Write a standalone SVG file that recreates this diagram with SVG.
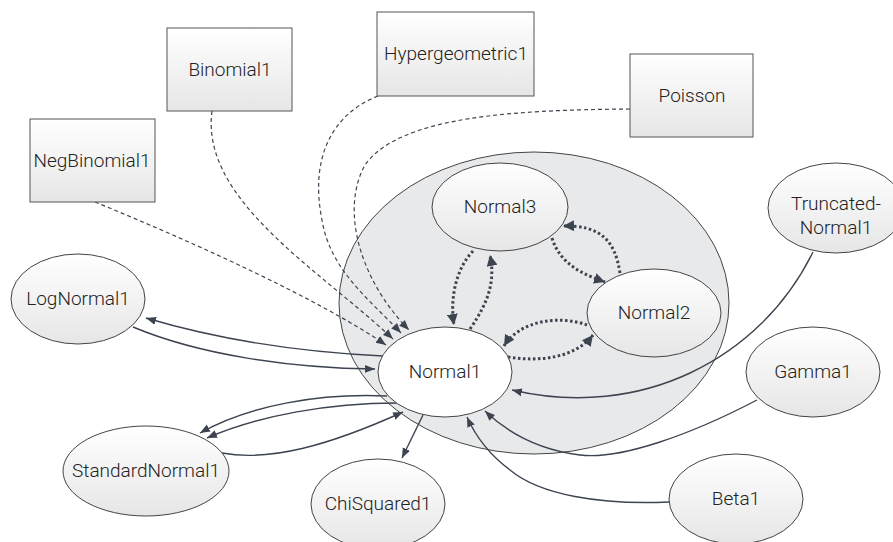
<svg xmlns="http://www.w3.org/2000/svg" width="893" height="542" viewBox="0 0 893 542">
<defs>
<linearGradient id="g" x1="0" y1="0" x2="0" y2="1">
<stop offset="0" stop-color="#ffffff"/>
<stop offset="1" stop-color="#e6e6e6"/>
</linearGradient>
<marker id="a" viewBox="0 0 10 10" refX="10" refY="5" markerWidth="10" markerHeight="10" markerUnits="userSpaceOnUse" orient="auto">
<path d="M0,1 L10,5 L0,9 Z" fill="#3d4450"/>
</marker>
<marker id="b" viewBox="0 0 10 10" refX="10" refY="5" markerWidth="11" markerHeight="11" markerUnits="userSpaceOnUse" orient="auto">
<path d="M0,0 L10,5 L0,10 Z" fill="#3d4450"/>
</marker>
</defs>
<style>
.box{fill:url(#g);stroke:#555;stroke-width:1}
.ell{fill:url(#g);stroke:#444;stroke-width:1}
.t{font-family:Roboto,"Liberation Sans",sans-serif;font-weight:300;font-size:19px;fill:#222;text-anchor:middle}
.s{fill:none;stroke:#3d4450;stroke-width:1.4;marker-end:url(#a)}
.d{fill:none;stroke:#3d4450;stroke-width:1.2;stroke-dasharray:4,3;marker-end:url(#a)}
.o{fill:none;stroke:#3d4450;stroke-width:3;stroke-dasharray:2.5,2.5;marker-end:url(#b)}
</style>
<rect width="893" height="542" fill="#ffffff"/>
<g id="container"><ellipse cx="534" cy="303" rx="195" ry="151" fill="#e8e9eb" stroke="#444" stroke-width="1"/></g>
<g id="connectors">
<path class="d" d="M95,202 C200,245 320,300 386,345"/>
<path class="d" d="M212,111 C200,200 320,270 393,339"/>
<path class="d" d="M378,96 C330,115 310,160 322,220 C330,270 370,300 401,333"/>
<path class="d" d="M630,109 C520,110 400,115 365,165 C340,210 360,280 409,330"/>
<path class="s" d="M383,356 C300,352 220,340 146,318"/>
<path class="s" d="M133,327 C200,355 290,368 375,369"/>
<path class="s" d="M387,396 C320,393 250,405 200,433"/>
<path class="s" d="M397,403 C330,403 260,415 207,438"/>
<path class="s" d="M222,453 C270,462 330,445 403,412"/>
<path class="s" d="M423,415 L402,458"/>
<path class="s" d="M813,252 C760,360 640,420 512,390"/>
<path class="s" d="M757,400 C690,435 620,460 580,455 C540,450 510,435 485,411"/>
<path class="s" d="M669,502 C600,505 540,495 510,470 C490,455 475,435 467,417"/>
<path class="o" d="M473,251 C455,270 450,300 454,325"/>
<path class="o" d="M470,329 C490,300 495,280 490,255"/>
<path class="o" d="M552,238 C560,265 585,275 605,282"/>
<path class="o" d="M620,273 C615,240 600,225 563,226"/>
<path class="o" d="M587,325 C560,315 520,320 504,346"/>
<path class="o" d="M508,357 C540,362 575,358 593,335"/>
</g>
<g id="Binomial1"><rect class="box" x="167" y="28" width="125" height="83"/><text class="t" x="230" y="76">Binomial1</text></g>
<g id="NegBinomial1"><rect class="box" x="30" y="119" width="125" height="83"/><text class="t" x="92" y="167">NegBinomial1</text></g>
<g id="Hypergeometric1"><rect class="box" x="377" y="12" width="157" height="84"/><text class="t" x="456" y="60">Hypergeometric1</text></g>
<g id="Poisson"><rect class="box" x="630" y="54" width="123" height="83"/><text class="t" x="692" y="102">Poisson</text></g>
<g id="Normal3"><ellipse class="ell" cx="500" cy="207" rx="68" ry="44"/><text class="t" x="500" y="213">Normal3</text></g>
<g id="Normal2"><ellipse class="ell" cx="654" cy="313" rx="67" ry="44"/><text class="t" x="654" y="319">Normal2</text></g>
<g id="Normal1"><ellipse cx="445" cy="372" rx="67" ry="45" fill="#ffffff" stroke="#444" stroke-width="1"/><text class="t" x="445" y="378">Normal1</text></g>
<g id="LogNormal1"><ellipse class="ell" cx="78" cy="299" rx="67" ry="45"/><text class="t" x="78" y="305">LogNormal1</text></g>
<g id="StandardNormal1"><ellipse class="ell" cx="146" cy="471" rx="83" ry="45"/><text class="t" x="146" y="477">StandardNormal1</text></g>
<g id="ChiSquared1"><ellipse class="ell" cx="378" cy="504" rx="67" ry="45"/><text class="t" x="378" y="510">ChiSquared1</text></g>
<g id="TruncatedNormal1"><ellipse class="ell" cx="836" cy="208" rx="68" ry="45"/><text class="t" x="836" y="210">Truncated-</text><text class="t" x="836" y="234">Normal1</text></g>
<g id="Gamma1"><ellipse class="ell" cx="813" cy="372" rx="67" ry="45"/><text class="t" x="813" y="378">Gamma1</text></g>
<g id="Beta1"><ellipse class="ell" cx="736" cy="499" rx="67" ry="45"/><text class="t" x="736" y="505">Beta1</text></g>
</svg>
